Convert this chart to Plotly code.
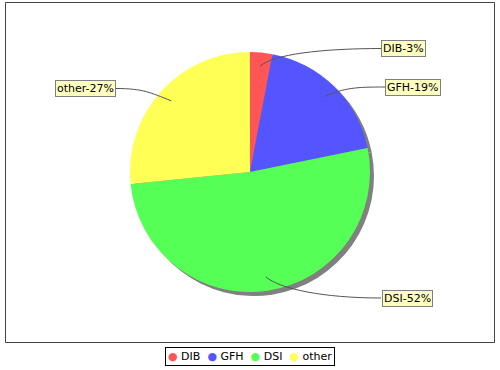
import math
import plotly.graph_objects as go

categories = ["DIB", "GFH", "DSI", "other"]
values = [3.0, 18.8, 51.6, 26.6]
pct_labels = ["3%", "19%", "52%", "27%"]
colors = ["#FF5555", "#5555FF", "#55FF55", "#FFFF55"]

W, H = 500, 370
CX, CY, R = 250, 172, 120
SHADOW = 4
FONT = "DejaVu Sans"

# label box centres (pixels) and the x of the box edge the link attaches to
label_pos = [(403.5, 48.5), (413, 87), (407, 298), (85.5, 88.5)]
link_x = [382, 385, 381, 116]


def px(x):
    return x / W


def py(y):
    return 1 - y / H


fig = go.Figure()

# shadow pie
fig.add_trace(go.Pie(
    values=values, sort=False, direction="clockwise", rotation=0,
    marker=dict(colors=["#808080"] * len(values), line=dict(width=0)),
    textinfo="none", hoverinfo="skip", showlegend=False,
    domain=dict(x=[px(CX - R + SHADOW), px(CX + R + SHADOW)],
                y=[py(CY + R + SHADOW), py(CY - R + SHADOW)]),
))

# main pie
fig.add_trace(go.Pie(
    values=values, labels=categories, sort=False, direction="clockwise", rotation=0,
    marker=dict(colors=colors, line=dict(width=0)),
    textinfo="none", hoverinfo="label+percent", showlegend=False,
    domain=dict(x=[px(CX - R), px(CX + R)], y=[py(CY + R), py(CY - R)]),
))

shapes = []
annotations = []
total = sum(values)
cum = 0.0
for i, (cat, v, pl) in enumerate(zip(categories, values, pct_labels)):
    a = 2 * math.pi * (cum + v / 2) / total
    cum += v
    dx, dy = math.sin(a), -math.cos(a)
    ex, ey = CX + 0.885 * R * dx, CY + 0.885 * R * dy
    lx, ly = label_pos[i]
    sx, sy = link_x[i], ly
    sgn = 1 if sx > CX else -1
    c1x, c1y = sx + (ex - sx) * 0.5, sy
    c2x, c2y = ex + 12 * dx + 12 * sgn, ey + 12 * dy
    path = (f"M {px(sx)} {py(sy)} C {px(c1x)} {py(c1y)}, "
            f"{px(c2x)} {py(c2y)}, {px(ex)} {py(ey)}")
    shapes.append(dict(type="path", path=path, xref="paper", yref="paper",
                       line=dict(color="#555555", width=1)))
    annotations.append(dict(
        x=px(lx), y=py(ly), xref="paper", yref="paper", showarrow=False,
        text=f"{cat}-{pl}", font=dict(family=FONT, size=11, color="#000000"),
        bgcolor="#FFFFC0", bordercolor="#808080", borderwidth=1, borderpad=1,
        xanchor="center", yanchor="middle",
    ))

# chart border
shapes.append(dict(type="rect", xref="paper", yref="paper",
                   x0=px(5.5), x1=px(494.5), y0=py(342.5), y1=py(2.5),
                   line=dict(color="#444444", width=1)))

legend_text = "&nbsp; ".join(
    f"<span style='color:{c}'>●</span> {cat}" for cat, c in zip(categories, colors)
)
annotations.append(dict(
    x=px(250), y=py(356), xref="paper", yref="paper", showarrow=False,
    text=legend_text, font=dict(family=FONT, size=11, color="#000000"),
    bgcolor="#FFFFFF", bordercolor="#000000", borderwidth=1, borderpad=2,
    xanchor="center", yanchor="middle",
))

fig.update_layout(
    width=W, height=H, margin=dict(l=0, r=0, t=0, b=0),
    paper_bgcolor="#FFFFFF", plot_bgcolor="#FFFFFF",
    shapes=shapes, annotations=annotations, showlegend=False,
)

fig.write_html("out.html")
